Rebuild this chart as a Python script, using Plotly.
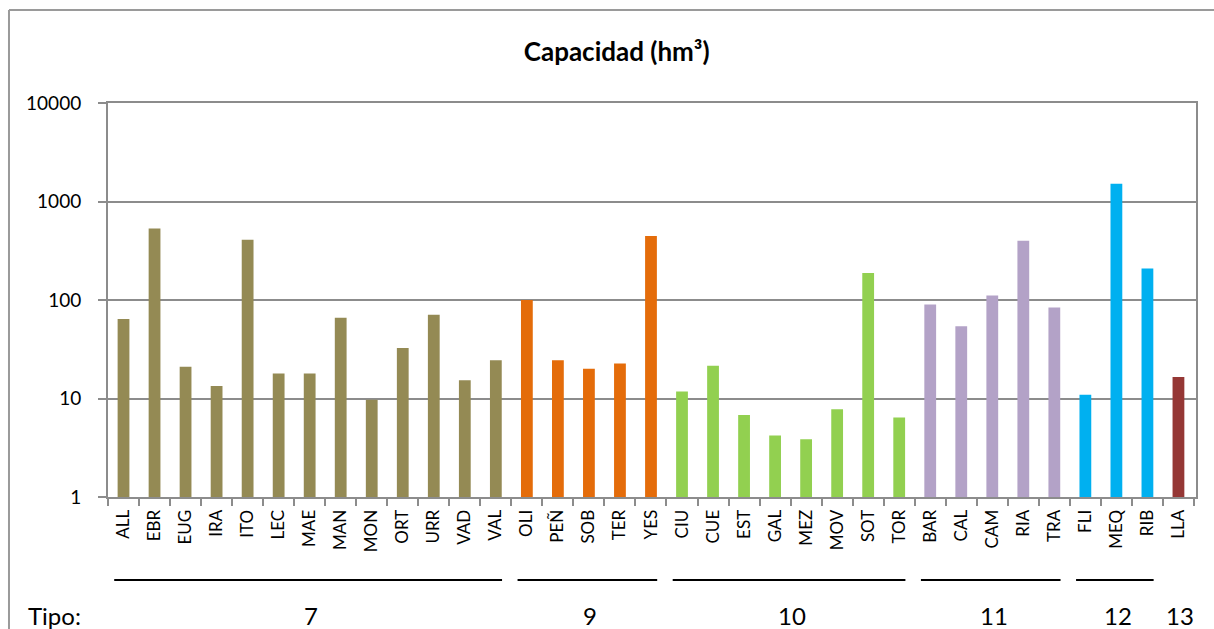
import plotly.graph_objects as go

# Reservoir codes, grouped by type
embalses = ["ALL", "EBR", "EUG", "IRA", "ITO", "LEC", "MAE", "MAN", "MON", "ORT", "URR", "VAD", "VAL",
            "OLI", "PEÑ", "SOB", "TER", "YES",
            "CIU", "CUE", "EST", "GAL", "MEZ", "MOV", "SOT", "TOR",
            "BAR", "CAL", "CAM", "RIA", "TRA",
            "FLI", "MEQ", "RIB",
            "LLA"]
capacidad = [64, 533, 21, 13.4, 409, 17.9, 17.9, 66, 9.7, 32.6, 71, 15.3, 24.4,
             100, 24.4, 20, 22.7, 447,
             11.8, 21.5, 6.8, 4.2, 3.85, 7.8, 188, 6.4,
             90, 54, 111, 400, 84,
             10.9, 1517, 209,
             16.5]
tipo = [7] * 13 + [9] * 5 + [10] * 8 + [11] * 5 + [12] * 3 + [13]
tipos = [7, 9, 10, 11, 12, 13]
color_tipo = {7: "#948A54", 9: "#E46C0A", 10: "#92D050", 11: "#B3A2C7", 12: "#00B0F0", 13: "#953735"}

y_ticks = [1, 10, 100, 1000, 10000]
y_ticktext = ["1", "10", "100", "1000", "10000"]

GRID = "#8C8C8C"
FONT = "Lato, Calibri, Carlito, sans-serif"

fig = go.Figure(go.Bar(
    x=embalses,
    y=capacidad,
    marker=dict(color=[color_tipo[t] for t in tipo], line=dict(width=0)),
    width=0.38,
))

shapes = []
annotations = []
for t in tipos:
    idx = [i for i, v in enumerate(tipo) if v == t]
    first, last = idx[0], idx[-1]
    if len(idx) > 1:
        # bracket line under each multi-reservoir type
        shapes.append(dict(type="line", xref="x", yref="paper",
                           x0=first - 0.3, x1=last + 0.2, y0=-0.2107, y1=-0.2107,
                           line=dict(color="black", width=2)))
    annotations.append(dict(x=(first + last) / 2 + 0.05,
                            xref="x", y=-0.2995, yref="paper", text=str(t),
                            showarrow=False, font=dict(size=24, color="black", family=FONT),
                            xanchor="center", yanchor="middle"))

annotations.append(dict(x=-0.0754, xref="paper", y=-0.2995, yref="paper", text="Tipo:",
                        showarrow=False, font=dict(size=24, color="black", family=FONT),
                        xanchor="left", yanchor="middle"))

# outer chart frame (top and left edges)
shapes.append(dict(type="line", xref="paper", yref="paper", x0=-0.091, x1=1.05, y0=1.236, y1=1.236,
                   line=dict(color="#9A9A9A", width=2)))
shapes.append(dict(type="line", xref="paper", yref="paper", x0=-0.091, x1=-0.091, y0=1.236, y1=-0.35,
                   line=dict(color="#9A9A9A", width=2)))

fig.update_layout(
    width=1214, height=629,
    margin=dict(l=108, r=18, t=103, b=132),
    paper_bgcolor="white", plot_bgcolor="white",
    showlegend=False,
    title=dict(text="<b>Capacidad (hm³)</b>", x=0.508, xanchor="center", y=0.918, yanchor="middle",
               font=dict(size=26, color="black", family=FONT)),
    font=dict(family=FONT, color="black"),
    shapes=shapes,
    annotations=annotations,
    bargap=0.6,
)

fig.update_xaxes(
    type="category",
    tickangle=-90,
    tickfont=dict(size=17, color="black", family=FONT),
    ticks="outside", ticklen=7, tickcolor=GRID, tickwidth=1.5,
    tickson="boundaries",
    ticklabelstandoff=4,
    showline=True, linecolor=GRID, linewidth=2, mirror=True,
    showgrid=False,
)
fig.update_yaxes(
    type="log",
    range=[0, 4],
    tickvals=y_ticks, ticktext=y_ticktext,
    tickfont=dict(size=19, color="black", family=FONT),
    ticks="outside", ticklen=8, tickcolor=GRID, tickwidth=1.5,
    ticklabelstandoff=13,
    showline=True, linecolor=GRID, linewidth=2, mirror=True,
    showgrid=True, gridcolor=GRID, gridwidth=2,
    zeroline=False,
)

fig.write_html("out.html")
